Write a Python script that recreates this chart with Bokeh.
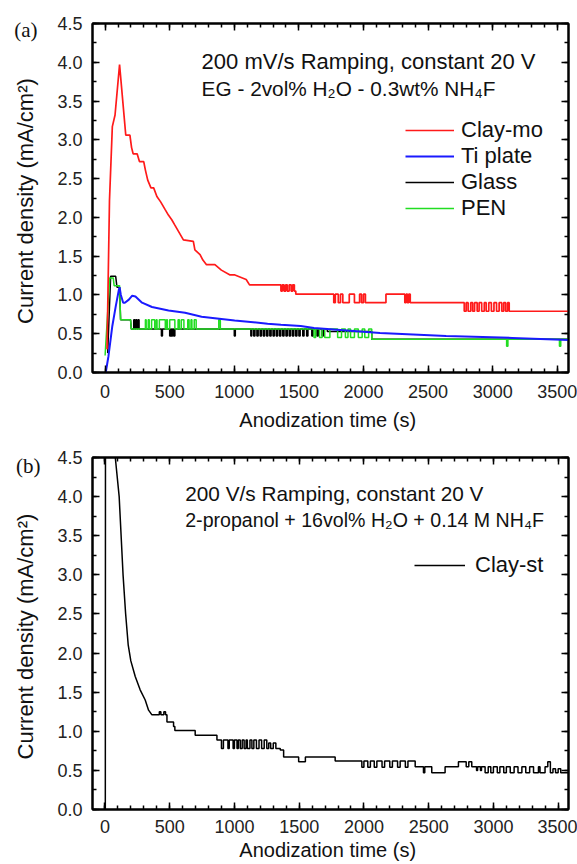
from bokeh.plotting import figure
from bokeh.models import (Range1d, LinearAxis, SingleIntervalTicker, Label,
                          Legend, LegendItem, NumeralTickFormatter, FixedTicker,
                          CustomJSTickFormatter)
from bokeh.layouts import column
from bokeh.embed import file_html
from bokeh.resources import INLINE

FONT = "Liberation Sans"

# ---------------- Panel (a) data ----------------
# Clay-mo (red): smooth start, then stepped part
red_t = [15, 34, 56, 77, 112, 160, 192, 205, 217, 248, 266, 299, 312, 330, 355,
         376, 401, 430, 465, 490, 516, 540, 568, 606, 683, 695, 735, 757, 785,
         850, 900, 964, 1000, 1092]
red_v = [0.30, 2.22, 3.17, 3.32, 3.97, 3.06, 3.06, 2.90, 2.82, 2.82, 2.72, 2.72,
         2.61, 2.48, 2.38, 2.38, 2.27, 2.20, 2.10, 2.03, 1.97, 1.90, 1.82, 1.71,
         1.69, 1.58, 1.52, 1.45, 1.39, 1.39, 1.32, 1.26, 1.26, 1.20]
red_st = [1118, 1361, 1372, 1385, 1398, 1410, 1425, 1440, 1452, 1465, 1476,
          1770, 1782, 1805, 1822, 1840, 1890, 1930, 1970, 1985, 2000, 2015, 2064,
          2174, 2320, 2330, 2340, 2350, 2362,
          2780, 2795, 2810, 2830, 2845, 2860, 2880, 2895, 2915, 2935, 2950, 2970,
          2990, 3010, 3030, 3050, 3070, 3085, 3100, 3115, 3128]
red_sv = [1.13, 1.05, 1.13, 1.05, 1.13, 1.05, 1.13, 1.05, 1.13, 1.05, 1.01,
          0.90, 1.01, 0.90, 1.01, 0.90, 1.01, 0.90, 1.01, 0.90, 1.01, 0.90, 0.90,
          1.01, 0.90, 1.01, 0.90, 1.01, 0.90,
          0.79, 0.90, 0.79, 0.90, 0.79, 0.90, 0.79, 0.90, 0.79, 0.90, 0.79, 0.90,
          0.79, 0.90, 0.79, 0.90, 0.79, 0.90, 0.79, 0.90, 0.79]

# Ti plate (blue)
blue_t = [5, 26, 56, 82, 107, 112, 122, 140, 153, 184, 210, 235, 286, 363, 491,
          619, 747, 1003, 1258, 1361, 1514, 1617, 2128, 2640, 3151, 3587]
blue_v = [0.00, 0.21, 0.60, 0.85, 1.07, 1.10, 1.00, 0.90, 0.90, 0.94, 0.99, 0.98,
          0.90, 0.845, 0.80, 0.77, 0.72, 0.67, 0.63, 0.617, 0.60, 0.575, 0.51,
          0.47, 0.446, 0.42]

# Glass (black)
black_t = [20, 43, 82, 92, 112, 120, 197]
black_v = [0.25, 1.24, 1.24, 1.10, 1.10, 0.68, 0.68]
black_st = [203, 222, 230, 238, 246, 255, 263, 436, 444, 500, 508, 514, 522, 530,
            540, 1000, 1008, 1128, 1135, 1150, 1160, 1175, 1185, 1200, 1210,
            1225, 1235, 1250, 1260, 1275, 1285, 1300, 1310, 1325, 1335, 1350,
            1360, 1375, 1385, 1400, 1410, 1425, 1435, 1450, 1460, 1475, 1485,
            1500, 1510, 1530, 1540, 1560, 1570, 1600, 1610, 1640, 1650, 1680,
            1690, 1720, 2064]
black_sv = [0.56, 0.68, 0.56, 0.68, 0.56, 0.68, 0.56, 0.47, 0.56, 0.47, 0.56,
            0.47, 0.56, 0.47, 0.56, 0.47, 0.56, 0.47, 0.56, 0.47, 0.56, 0.47,
            0.56, 0.47, 0.56, 0.47, 0.56, 0.47, 0.56, 0.47, 0.56, 0.47, 0.56,
            0.47, 0.56, 0.47, 0.56, 0.47, 0.56, 0.47, 0.56, 0.47, 0.56, 0.47,
            0.56, 0.47, 0.56, 0.47, 0.56, 0.47, 0.56, 0.47, 0.56, 0.47, 0.56,
            0.47, 0.56, 0.47, 0.56, 0.53, 0.43]

# PEN (green)
green_t = [0, 36, 63, 70, 112, 120, 197]
green_v = [0.22, 1.22, 1.22, 1.12, 1.12, 0.68, 0.68]
green_st = [203, 312, 318, 334, 342, 360, 384, 396, 402, 420, 466, 476, 482, 500,
            540, 565, 575, 590, 610, 640, 650, 665, 672, 690, 705, 880, 892,
            1617, 1630, 1660, 1680, 1700, 1740, 1800, 1830, 1860, 1880, 1900,
            1930, 1960, 1990, 2010, 2040, 2064, 3108, 3118, 3517, 3527]
green_sv = [0.56, 0.68, 0.56, 0.68, 0.56, 0.68, 0.56, 0.68, 0.56, 0.68, 0.56,
            0.68, 0.56, 0.68, 0.56, 0.68, 0.56, 0.68, 0.56, 0.68, 0.56, 0.68,
            0.56, 0.68, 0.56, 0.68, 0.56,
            0.45, 0.56, 0.45, 0.56, 0.45, 0.56, 0.45, 0.56, 0.45, 0.56, 0.45,
            0.56, 0.45, 0.56, 0.45, 0.56, 0.43, 0.34, 0.43, 0.34, 0.43]

A_END = 3587

# ---------------- Panel (b) data ----------------
clay_t = [0, 3, 5, 80, 110, 140, 160, 180, 200, 234, 272, 311, 337, 363]
clay_v = [0.0, 0.0, 8.0, 4.5, 4.0, 3.0, 2.5, 2.1, 1.9, 1.70, 1.53, 1.40, 1.27,
          1.21]
clay_st = [363, 420, 432, 455, 468, 479, 530, 540, 697, 865,
           900, 915, 950, 960, 990, 1000, 1020, 1030, 1045, 1060, 1075, 1090,
           1100, 1120, 1135, 1150, 1170, 1190, 1210, 1230, 1250, 1265, 1280,
           1300, 1320, 1340, 1354, 1380, 1496, 1548, 1778, 1984, 2000, 2030,
           2050, 2080, 2100, 2140, 2160, 2200, 2220, 2260, 2280, 2320, 2340,
           2396, 2460, 2470, 2524, 2627, 2730, 2790, 2810, 2833, 2870, 2878,
           2900, 2908, 2936, 2960, 2980, 3000, 3030, 3050, 3080, 3100, 3130,
           3160, 3190, 3220, 3250, 3280, 3310, 3348, 3360, 3399, 3420, 3440,
           3460, 3480, 3500, 3520]
clay_sv = [1.21, 1.25, 1.21, 1.25, 1.21, 1.12, 1.06, 1.01, 0.95, 0.89,
           0.78, 0.89, 0.78, 0.89, 0.78, 0.89, 0.78, 0.89, 0.78, 0.89, 0.78,
           0.89, 0.78, 0.89, 0.78, 0.89, 0.78, 0.89, 0.78, 0.89, 0.78, 0.85,
           0.78, 0.85, 0.78, 0.78, 0.76, 0.67, 0.61, 0.67, 0.62, 0.54, 0.62,
           0.54, 0.62, 0.54, 0.62, 0.54, 0.62, 0.54, 0.62, 0.54, 0.62, 0.54,
           0.62, 0.545, 0.47, 0.545, 0.47, 0.545, 0.61, 0.545, 0.61, 0.545,
           0.50, 0.545, 0.50, 0.545, 0.47, 0.545, 0.47, 0.545, 0.47, 0.545,
           0.47, 0.545, 0.47, 0.545, 0.47, 0.545, 0.47, 0.545, 0.47, 0.545,
           0.47, 0.545, 0.61, 0.47, 0.52, 0.47, 0.52, 0.47, 0.52, 0.50]
B_END = 3580

X_TICKS = 500
Y_TICKS = 0.5


def stairs(t0, v0, ts, vs, end):
    xs, ys = list(t0), list(v0)
    for i, (t, v) in enumerate(zip(ts, vs)):
        nxt = ts[i + 1] if i + 1 < len(ts) else end
        xs += [t, nxt]
        ys += [v, v]
    return xs, ys


def style_axis(ax, labels=True):
    ax.axis_line_width = 2
    ax.axis_line_color = "black"
    ax.major_tick_line_width = 1.5
    ax.minor_tick_line_width = 1.5
    ax.major_tick_in = 7
    ax.major_tick_out = 0
    ax.minor_tick_in = 4
    ax.minor_tick_out = 0
    ax.major_label_text_font = FONT
    ax.major_label_text_color = "#222222"
    ax.axis_label_text_font = FONT
    ax.axis_label_text_font_style = "normal"
    ax.axis_label_text_color = "#111111"
    if labels:
        ax.major_label_text_font_size = "18px"
    else:
        ax.major_label_text_font_size = "1px"
        ax.major_label_text_color = None
        ax.major_label_standoff = 0


def make_fig(xr, width, height, bl, bt, bb, br, tick_sd, label_sd):
    p = figure(width=width, height=height, x_range=Range1d(*xr),
               y_range=Range1d(0, 4.5), output_backend="svg",
               toolbar_location=None, min_border_left=bl, min_border_top=bt,
               min_border_bottom=bb, min_border_right=br)
    p.grid.visible = False
    p.outline_line_color = "black"
    p.outline_line_width = 2
    p.background_fill_color = "white"
    p.border_fill_color = "white"
    p.xaxis.ticker = SingleIntervalTicker(interval=X_TICKS, num_minor_ticks=5)
    p.yaxis.ticker = SingleIntervalTicker(interval=Y_TICKS, num_minor_ticks=2)
    p.yaxis.formatter = NumeralTickFormatter(format="0.0")
    for ax in p.xaxis + p.yaxis:
        style_axis(ax)
    p.xaxis.axis_label = "Anodization time  (s)"
    p.yaxis.axis_label = "Current density  (mA/cm²)"
    p.xaxis.axis_label_text_font_size = "20px"
    p.yaxis.axis_label_text_font_size = "22px"
    p.xaxis.major_label_standoff = tick_sd
    p.yaxis.major_label_standoff = 10
    p.xaxis.axis_label_standoff = label_sd
    p.yaxis.axis_label_standoff = 16
    top = LinearAxis(ticker=SingleIntervalTicker(interval=X_TICKS, num_minor_ticks=5))
    right = LinearAxis(ticker=SingleIntervalTicker(interval=Y_TICKS, num_minor_ticks=2))
    style_axis(top, labels=False)
    style_axis(right, labels=False)
    p.add_layout(top, "above")
    p.add_layout(right, "right")
    return p


def add_text(p, x, y, text, size):
    p.add_layout(Label(x=x, y=y, text=text, text_font=FONT, text_font_size=size,
                       text_baseline="middle", text_align="left",
                       text_color="#111111"))


def add_panel_tag(p, y, text, standoff):
    # an extra, line-less left axis whose single tick label is the panel tag
    tag = LinearAxis(ticker=FixedTicker(ticks=[y], minor_ticks=[]),
                     formatter=CustomJSTickFormatter(code="return '%s'" % text))
    tag.axis_line_color = None
    tag.major_tick_line_color = None
    tag.minor_tick_line_color = None
    tag.major_tick_in = 0
    tag.major_tick_out = 0
    tag.major_label_standoff = standoff
    tag.major_label_text_font = "Liberation Serif"
    tag.major_label_text_font_size = "21px"
    tag.major_label_text_color = "#111111"
    p.add_layout(tag, "left")


# ---------------- Panel (a) ----------------
pa = make_fig((-97.5, 3587), 577, 433, 90, 23, 60, 7, 12, 8)
rx, ry = stairs(red_t, red_v, red_st, red_sv, A_END)
bx, by = stairs(black_t, black_v, black_st, black_sv, A_END)
gx, gy = stairs(green_t, green_v, green_st, green_sv, A_END)
r_black = pa.line(bx, by, color="black", line_width=1.5)
r_green = pa.line(gx, gy, color="#22dd22", line_width=1.5)
r_blue = pa.line(blue_t, blue_v, color="#1a1aff", line_width=2)
r_red = pa.line(rx, ry, color="#ff1a1a", line_width=1.7)
leg_a = Legend(items=[LegendItem(label="Clay-mo", renderers=[r_red]),
                      LegendItem(label="Ti plate", renderers=[r_blue]),
                      LegendItem(label="Glass", renderers=[r_black]),
                      LegendItem(label="PEN", renderers=[r_green])],
               location=(313, 151), padding=0, spacing=0, margin=0,
               label_height=26, glyph_height=26, glyph_width=49,
               label_standoff=7, label_text_font=FONT,
               label_text_font_size="22px", label_text_color="#111111",
               background_fill_alpha=0, border_line_color=None)
pa.add_layout(leg_a)
add_text(pa, 747, 4.01, "200 mV/s Ramping, constant 20 V", "22px")
add_text(pa, 747, 3.66, "EG - 2vol% H₂O - 0.3wt% NH₄F", "20.8px")
add_panel_tag(pa, 4.41, "(a)", -27)

# ---------------- Panel (b) ----------------
pb = make_fig((-96, 3580), 577, 431, 92, 24, 55, 9, 10, 3)
cx, cy = stairs(clay_t, clay_v, clay_st, clay_sv, B_END)
r_clay = pb.line(cx, cy, color="black", line_width=1.5)
leg_b = Legend(items=[LegendItem(label="Clay-st", renderers=[r_clay])],
               location=(322, 231), padding=0, spacing=0, margin=0,
               label_height=26, glyph_height=26, glyph_width=51,
               label_standoff=10, label_text_font=FONT,
               label_text_font_size="22px", label_text_color="#111111",
               background_fill_alpha=0, border_line_color=None)
pb.add_layout(leg_b)
add_text(pb, 620, 4.04, "200 V/s Ramping, constant 20 V", "20.8px")
add_text(pb, 620, 3.70, "2-propanol + 16vol% H₂O + 0.14 M NH₄F", "19.6px")
add_panel_tag(pb, 4.39, "(b)", -30)

layout = column(pa, pb, spacing=0)
open("out.html", "w").write(file_html(layout, INLINE))
